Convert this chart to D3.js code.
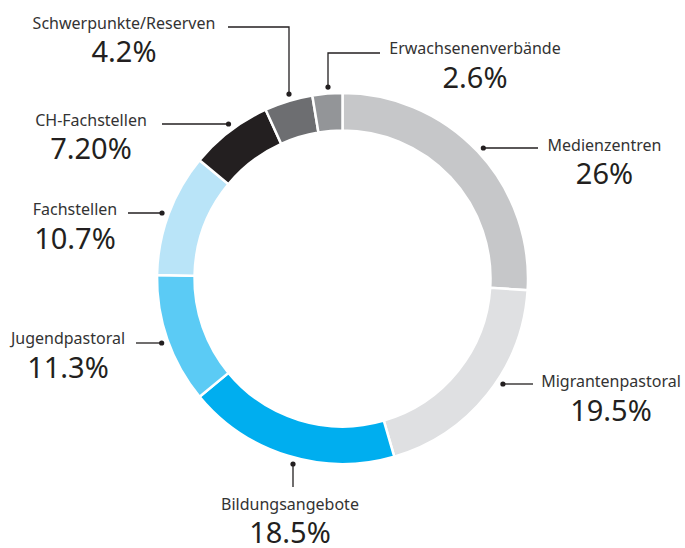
<!DOCTYPE html>
<html>
<head>
<meta charset="utf-8">
<script src="https://cdn.jsdelivr.net/npm/d3@7"></script>
<style>
  body { margin: 0; background: #fff; }
  svg { display: block; }
</style>
</head>
<body>
<div id="chart"></div>
<script>
// data, clockwise from 12 o'clock
const categories = ["Medienzentren", "Migrantenpastoral", "Bildungsangebote", "Jugendpastoral",
    "Fachstellen", "CH-Fachstellen", "Schwerpunkte/Reserven", "Erwachsenenverbände"];
const values = [26, 19.5, 18.5, 11.3, 10.7, 7.2, 4.2, 2.6];
const valueLabels = ["26%", "19.5%", "18.5%", "11.3%", "10.7%", "7.20%", "4.2%", "2.6%"];
const colors = ["#c6c7c9", "#dfe0e2", "#00aeef", "#5bcbf5", "#b9e4f8", "#231f20", "#6d6e71", "#939598"];

const width = 685, height = 548;
const cx = 342.5, cy = 278.5;
const outerR = 185.5, innerR = 148, dotR = 192;

// callout layout: side = where the leader goes, lineY / dotX fix the dot on the circle
const callouts = [
    { side: "right", lineY: 148, endX: 538, tx: 604.5, ty: 151, py: 184 },
    { side: "right", lineY: 384, endX: 533, tx: 611, ty: 387, py: 421 },
    { side: "down", dotX: 293, endY: 487, tx: 290, ty: 510, py: 543 },
    { side: "left", lineY: 343, endX: 136, tx: 68, ty: 344, py: 378 },
    { side: "left", lineY: 213, endX: 128, tx: 75, ty: 215, py: 249 },
    { side: "left", lineY: 124, endX: 162, tx: 91, ty: 126, py: 159 },
    { side: "up", dotX: 289, elbowY: 27, endX: 228, tx: 124, ty: 29, py: 62 },
    { side: "up", dotX: 328, elbowY: 53, endX: 380, tx: 475, ty: 54, py: 88 }
];

const svg = d3.select("#chart").append("svg")
    .attr("width", width)
    .attr("height", height);

const g = svg.append("g").attr("transform", `translate(${cx},${cy})`);

const pie = d3.pie().sort(null).value(d => d);
const arc = d3.arc().innerRadius(innerR).outerRadius(outerR);

g.selectAll("path.slice")
    .data(pie(values))
    .enter().append("path")
    .attr("class", "slice")
    .attr("d", arc)
    .attr("fill", (d, i) => colors[i])
    .attr("stroke", "#fff")
    .attr("stroke-width", 2.5);

// leader lines + dots
callouts.forEach((c, i) => {
    let dx, dy, pts;
    if (c.side === "left" || c.side === "right") {
        dy = c.lineY - cy;
        dx = Math.sqrt(dotR * dotR - dy * dy) * (c.side === "left" ? -1 : 1);
        pts = [[cx + dx, c.lineY], [c.endX, c.lineY]];
    } else {
        dx = c.dotX - cx;
        dy = Math.sqrt(dotR * dotR - dx * dx) * (c.side === "up" ? -1 : 1);
        if (c.side === "up") {
            pts = [[c.dotX, cy + dy], [c.dotX, c.elbowY], [c.endX, c.elbowY]];
        } else {
            pts = [[c.dotX, cy + dy], [c.dotX, c.endY]];
        }
    }
    svg.append("path")
        .attr("d", d3.line()(pts))
        .attr("fill", "none")
        .attr("stroke", "#231f20")
        .attr("stroke-width", 1.3);
    svg.append("circle")
        .attr("cx", pts[0][0])
        .attr("cy", pts[0][1])
        .attr("r", 2.6)
        .attr("fill", "#231f20");

    svg.append("text")
        .attr("x", c.tx)
        .attr("y", c.ty)
        .attr("text-anchor", "middle")
        .style("font-family", "'Noto Sans', sans-serif")
        .style("font-size", "16px")
        .attr("fill", "#333333")
        .text(categories[i]);

    svg.append("text")
        .attr("x", c.tx)
        .attr("y", c.py)
        .attr("text-anchor", "middle")
        .style("font-family", "'Noto Sans', sans-serif")
        .style("font-size", "29px")
        .attr("fill", "#231f20")
        .text(valueLabels[i]);
});
</script>
</body>
</html>
